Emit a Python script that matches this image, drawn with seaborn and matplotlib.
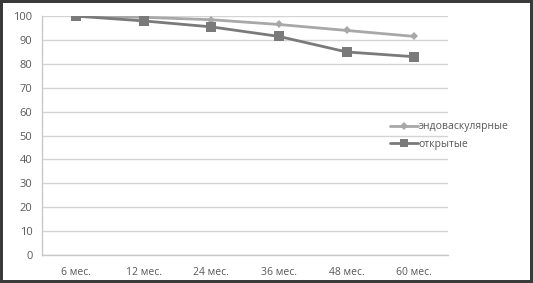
import pandas as pd
import matplotlib.pyplot as plt
import seaborn as sns

# данные с графика
periods = ['6 мес.', '12 мес.', '24 мес.', '36 мес.', '48 мес.', '60 мес.']
endo = [100, 99.5, 98.5, 96.5, 94, 91.5]
open_surg = [100, 98, 95.5, 91.5, 85, 83]
series_names = ['эндоваскулярные', 'открытые']

df = pd.DataFrame({
    'period': periods * 2,
    'value': endo + open_surg,
    'group': [series_names[0]] * len(periods) + [series_names[1]] * len(periods),
})

sns.set_style('white')
plt.rcParams['font.family'] = ['Open Sans', 'DejaVu Sans']
txt = '#595959'

fig = plt.figure(figsize=(5.33, 2.83), dpi=100, edgecolor='#3a3a3a', linewidth=4)
ax = fig.add_axes([0.079, 0.099, 0.762, 0.844])

ax = sns.lineplot(data=df, x='period', y='value', hue='group', style='group',
                  palette=['#a8a8a8', '#7a7a7a'], markers=['D', 's'], dashes=False,
                  linewidth=2, markeredgewidth=0, sort=False, ax=ax)
# размеры маркеров
for line, ms in zip(ax.lines[:2], [4.5, 7]):
    line.set_markersize(ms)

ax.set_ylim(0, 100)
ax.set_xlim(-0.5, 5.5)
ax.set_yticks(range(0, 101, 10))
ax.yaxis.grid(True, color='#d4d4d4', linewidth=1)
ax.set_axisbelow(True)
for s in ['top', 'right']:
    ax.spines[s].set_visible(False)
for s in ['left', 'bottom']:
    ax.spines[s].set_color('#c8c8c8')
    ax.spines[s].set_linewidth(1)
ax.set_xlabel('')
ax.set_ylabel('')
ax.tick_params(axis='x', which='major', length=0, pad=9, labelsize=7.5, labelcolor=txt)
ax.set_xticks([i - 0.5 for i in range(len(periods) + 1)], minor=True)
ax.tick_params(axis='x', which='minor', length=4, color='#c8c8c8', direction='out')
ax.tick_params(axis='y', length=4, color='#c8c8c8', direction='out', labelsize=8,
               labelcolor=txt, pad=3)

handles, labels = ax.get_legend_handles_labels()
for h, ms in zip(handles, [4, 5.5]):
    h.set_markersize(ms)
ax.legend_.remove()
fig.legend(handles, labels, loc='upper left', bbox_to_anchor=(0.715, 0.605),
           frameon=False, fontsize=7.5, labelcolor=txt, handlelength=2.6,
           handletextpad=0.1, labelspacing=0.65)

fig.savefig('out.png', dpi=100)
